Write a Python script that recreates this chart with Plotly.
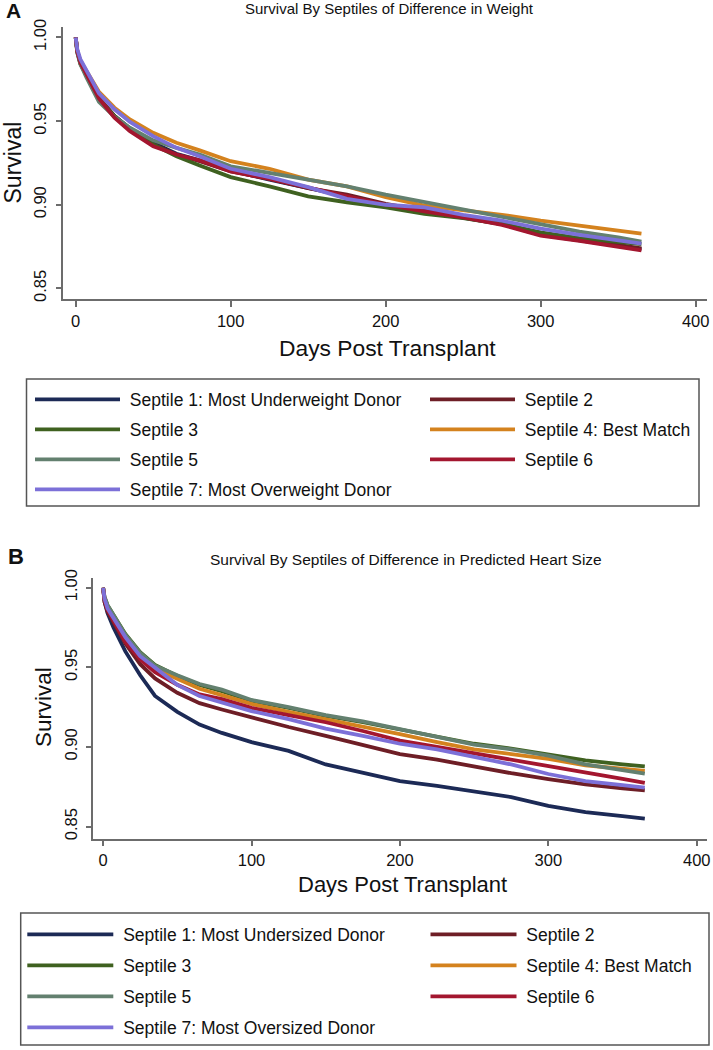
import plotly.graph_objects as go

# ---------------- data ----------------
DAYS = [0, 1, 3, 7, 15, 25, 35, 50, 65, 80, 100, 125, 150, 175, 200, 225, 250, 275, 300, 325, 350, 365]

NAMES_A = ["Septile 1: Most Underweight Donor", "Septile 2", "Septile 3", "Septile 4: Best Match",
           "Septile 5", "Septile 6", "Septile 7: Most Overweight Donor"]
NAMES_B = ["Septile 1: Most Undersized Donor", "Septile 2", "Septile 3", "Septile 4: Best Match",
           "Septile 5", "Septile 6", "Septile 7: Most Oversized Donor"]

COLORS = ["#1c2a56", "#6e1e26", "#3f6120", "#d4821e", "#63806f", "#a3162f", "#7c70d8"]

# Panel A: survival by septiles of difference in weight
A_S1 = [1.000, 0.992, 0.985, 0.978, 0.9635, 0.953, 0.9455, 0.937, 0.9305, 0.9265, 0.9205, 0.915, 0.910, 0.905, 0.900, 0.896, 0.8925, 0.8885, 0.882, 0.8785, 0.8755, 0.8735]
A_S2 = [1.000, 0.992, 0.985, 0.978, 0.964, 0.953, 0.945, 0.936, 0.930, 0.926, 0.920, 0.9155, 0.910, 0.906, 0.9005, 0.8965, 0.893, 0.889, 0.8825, 0.879, 0.876, 0.874]
A_S3 = [1.000, 0.991, 0.984, 0.977, 0.963, 0.953, 0.9455, 0.936, 0.929, 0.9235, 0.9165, 0.911, 0.905, 0.9015, 0.8985, 0.8945, 0.892, 0.8885, 0.8835, 0.880, 0.8775, 0.8765]
A_S4 = [1.000, 0.992, 0.986, 0.980, 0.9675, 0.958, 0.951, 0.943, 0.937, 0.9325, 0.926, 0.9215, 0.915, 0.911, 0.9045, 0.8995, 0.897, 0.894, 0.8905, 0.8875, 0.885, 0.8828]
A_S5 = [1.000, 0.991, 0.984, 0.976, 0.9615, 0.9525, 0.946, 0.9385, 0.934, 0.930, 0.923, 0.919, 0.915, 0.911, 0.906, 0.9015, 0.8975, 0.893, 0.8885, 0.884, 0.8805, 0.878]
A_S6 = [1.000, 0.9915, 0.985, 0.978, 0.9635, 0.952, 0.944, 0.935, 0.930, 0.9265, 0.920, 0.9155, 0.9105, 0.9055, 0.900, 0.896, 0.8925, 0.888, 0.8815, 0.8785, 0.875, 0.8727]
A_S7 = [1.000, 0.993, 0.987, 0.980, 0.9665, 0.957, 0.9495, 0.941, 0.934, 0.929, 0.9215, 0.9165, 0.9105, 0.9035, 0.900, 0.8985, 0.894, 0.8905, 0.8857, 0.882, 0.879, 0.8768]

# Panel B: survival by septiles of difference in predicted heart size
B_S1 = [1.000, 0.991, 0.984, 0.975, 0.960, 0.945, 0.932, 0.922, 0.914, 0.9088, 0.903, 0.8975, 0.889, 0.8835, 0.8785, 0.8755, 0.872, 0.8685, 0.863, 0.859, 0.8565, 0.855]
B_S2 = [1.000, 0.991, 0.985, 0.978, 0.965, 0.952, 0.943, 0.934, 0.9275, 0.9235, 0.9185, 0.9125, 0.907, 0.9015, 0.8955, 0.892, 0.8875, 0.8835, 0.8798, 0.8765, 0.874, 0.8728]
B_S3 = [1.000, 0.994, 0.989, 0.983, 0.971, 0.9595, 0.9515, 0.9445, 0.939, 0.935, 0.929, 0.9245, 0.9195, 0.9155, 0.911, 0.906, 0.902, 0.899, 0.8955, 0.8915, 0.889, 0.8878]
B_S4 = [1.000, 0.993, 0.988, 0.981, 0.969, 0.957, 0.949, 0.9425, 0.9365, 0.9325, 0.927, 0.922, 0.9175, 0.9125, 0.908, 0.903, 0.8985, 0.8955, 0.8925, 0.8885, 0.886, 0.885]
B_S5 = [1.000, 0.994, 0.989, 0.983, 0.9705, 0.959, 0.951, 0.945, 0.9395, 0.936, 0.9295, 0.925, 0.920, 0.916, 0.911, 0.9065, 0.9015, 0.8985, 0.8945, 0.889, 0.8855, 0.8833]
B_S6 = [1.000, 0.992, 0.986, 0.979, 0.966, 0.955, 0.947, 0.939, 0.933, 0.930, 0.9245, 0.920, 0.9155, 0.910, 0.904, 0.900, 0.896, 0.892, 0.8885, 0.8845, 0.880, 0.8774]
B_S7 = [1.000, 0.993, 0.987, 0.981, 0.969, 0.957, 0.9495, 0.939, 0.932, 0.928, 0.9225, 0.9175, 0.9115, 0.907, 0.902, 0.8985, 0.894, 0.889, 0.883, 0.8785, 0.876, 0.8745]

X_TICKS = [0, 100, 200, 300, 400]
Y_TICKS = [0.85, 0.90, 0.95, 1.00]
Y_TICKTEXT = ["0.85", "0.90", "0.95", "1.00"]

TITLE_A = "Survival By Septiles of Difference in Weight"
TITLE_B = "Survival By Septiles of Difference in Predicted Heart Size"
X_TITLE = "Days Post Transplant"
Y_TITLE = "Survival"

# ---------------- figure ----------------
W, H = 713, 1050
FONT = "Liberation Sans, Arial, sans-serif"
TXT = "#111111"
AXC = "#6c6c6c"
LEG_FS = 17.5


def px_x(p):
    return p / W


def px_y(p):
    return 1 - p / H


fig = go.Figure()

series_a = [A_S1, A_S2, A_S3, A_S4, A_S5, A_S6, A_S7]
series_b = [B_S1, B_S2, B_S3, B_S4, B_S5, B_S6, B_S7]

# septiles 1,3,5,7 go in the left legend column, 2,4,6 in the right one
for i, (name, vals, col) in enumerate(zip(NAMES_A, series_a, COLORS)):
    fig.add_trace(go.Scatter(x=DAYS, y=vals, mode="lines", name="\u00a0" + name,
                             line=dict(color=col, width=3.8), legendgroup="a%d" % i,
                             xaxis="x", yaxis="y", legend="legend" if i % 2 == 0 else "legend2"))
for i, (name, vals, col) in enumerate(zip(NAMES_B, series_b, COLORS)):
    fig.add_trace(go.Scatter(x=DAYS, y=vals, mode="lines", name="\u00a0" + name,
                             line=dict(color=col, width=3.8), legendgroup="b%d" % i,
                             xaxis="x2", yaxis="y2", legend="legend3" if i % 2 == 0 else "legend4"))

axis_common = dict(showgrid=False, zeroline=False, showline=True, linecolor=AXC, linewidth=1.5,
                   ticks="outside", ticklen=6, tickwidth=1.5, tickcolor=AXC,
                   tickfont=dict(family=FONT, size=16.5, color=TXT), automargin=False)


def leg(x, y, gap, iw):
    return dict(orientation="v", x=px_x(x), y=px_y(y), xanchor="left", yanchor="top",
                borderwidth=0, bgcolor="rgba(0,0,0,0)", itemwidth=iw,
                tracegroupgap=gap, font=dict(family=FONT, size=LEG_FS, color=TXT))


ROW_H = 1.3 * LEG_FS + 3

fig.update_layout(
    width=W, height=H,
    margin=dict(l=0, r=0, t=0, b=0),
    paper_bgcolor="white", plot_bgcolor="white",
    font=dict(family=FONT, color=TXT),
    xaxis=dict(domain=[px_x(63.3), px_x(706.7)], range=[-8.0, 407.1], tickvals=X_TICKS,
               anchor="y", ticklabelstandoff=0, **axis_common),
    yaxis=dict(domain=[px_y(299), px_y(27)], range=[0.8437, 1.0062], tickvals=Y_TICKS,
               ticktext=Y_TICKTEXT, tickangle=-90, anchor="x", ticklabelstandoff=3, **axis_common),
    xaxis2=dict(domain=[px_x(93.3), px_x(706.7)], range=[-6.6, 406.7], tickvals=X_TICKS,
                anchor="y2", ticklabelstandoff=0, **axis_common),
    yaxis2=dict(domain=[px_y(838.5), px_y(578.3)], range=[0.8425, 1.0059], tickvals=Y_TICKS,
                ticktext=Y_TICKTEXT, tickangle=-90, anchor="x2", ticklabelstandoff=2, **axis_common),
    legend=leg(30, 399.3 - 5 - ROW_H / 2, 30 - ROW_H, 85),
    legend2=leg(425, 399.3 - 5 - ROW_H / 2, 30 - ROW_H, 85),
    legend3=leg(22.3, 934.3 - 5 - ROW_H / 2, 31 - ROW_H, 86),
    legend4=leg(425.5, 934.3 - 5 - ROW_H / 2, 31 - ROW_H, 86),
    showlegend=True,
    shapes=[
        dict(type="rect", xref="paper", yref="paper", x0=px_x(26.5), x1=px_x(699),
             y0=px_y(506), y1=px_y(379), line=dict(color="#555555", width=1.5), layer="below"),
        dict(type="rect", xref="paper", yref="paper", x0=px_x(20.7), x1=px_x(709),
             y0=px_y(1045), y1=px_y(913), line=dict(color="#555555", width=1.5), layer="below"),
    ],
)

ann = [
    dict(text="<b>A</b>", x=px_x(4), y=px_y(10.5), xanchor="left", yanchor="middle",
         font=dict(size=21, family=FONT, color=TXT)),
    dict(text="<b>B</b>", x=px_x(6), y=px_y(556), xanchor="left", yanchor="middle",
         font=dict(size=22, family=FONT, color=TXT)),
    dict(text=TITLE_A, x=px_x(389.5), y=px_y(8), xanchor="center", yanchor="middle",
         font=dict(size=15, family=FONT, color=TXT)),
    dict(text=TITLE_B, x=px_x(405.6), y=px_y(559), xanchor="center", yanchor="middle",
         font=dict(size=15.5, family=FONT, color=TXT)),
    dict(text=X_TITLE, x=px_x(387.5), y=px_y(348), xanchor="center", yanchor="middle",
         font=dict(size=22.8, family=FONT, color=TXT)),
    dict(text=X_TITLE, x=px_x(403), y=px_y(884), xanchor="center", yanchor="middle",
         font=dict(size=22, family=FONT, color=TXT)),
    dict(text=Y_TITLE, x=px_x(12.5), y=px_y(163), xanchor="center", yanchor="middle", textangle=-90,
         font=dict(size=23, family=FONT, color=TXT)),
    dict(text=Y_TITLE, x=px_x(43), y=px_y(707), xanchor="center", yanchor="middle", textangle=-90,
         font=dict(size=22.4, family=FONT, color=TXT)),
]
for a in ann:
    a.update(xref="paper", yref="paper", showarrow=False)
fig.update_layout(annotations=ann)

fig.write_html("out.html", config={"displayModeBar": False},
               post_script="document.body.style.margin='0px';")
